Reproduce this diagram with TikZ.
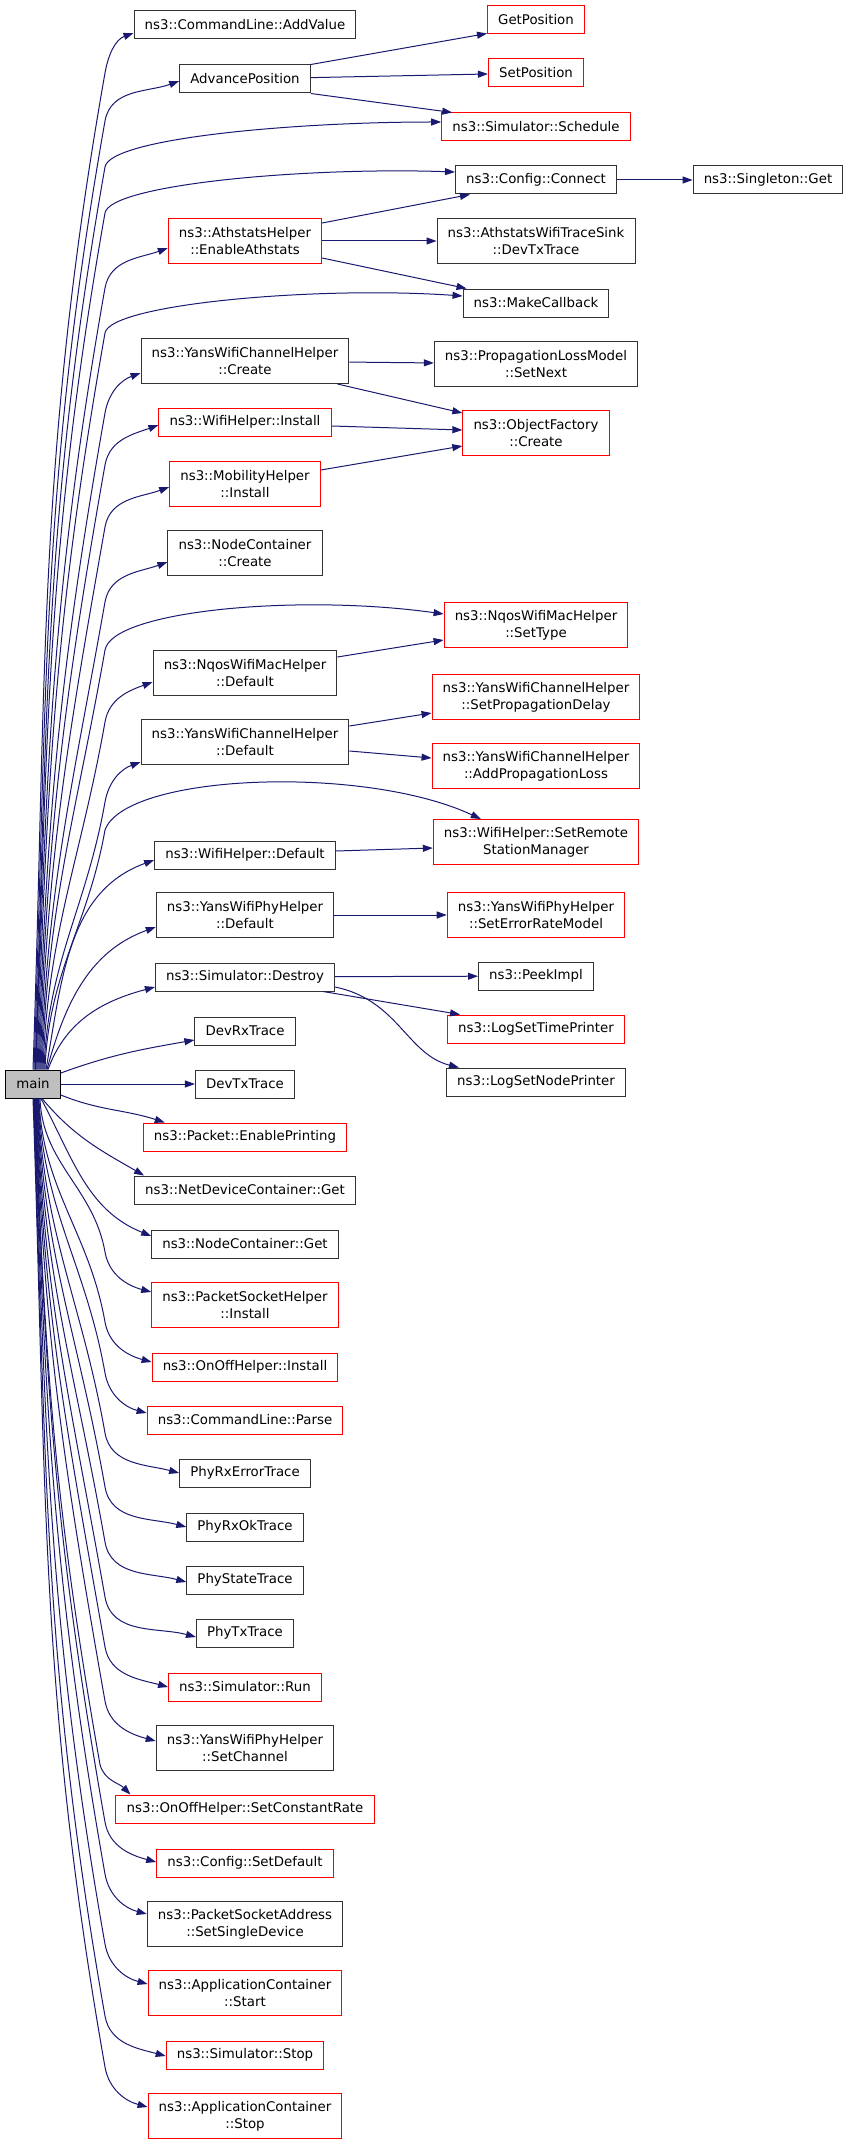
\documentclass[tikz,border=0pt]{standalone}
\usepackage{fontspec}
\setmainfont{DejaVu Sans}
\usetikzlibrary{arrows.meta,calc}
\definecolor{callblue}{HTML}{191970}
\definecolor{rootgray}{HTML}{BFBFBF}

\begin{document}
\begin{tikzpicture}[x=0.75pt,y=-0.75pt,
  func/.style={draw=black!80,line width=0.75pt,font=\fontsize{10}{12.75}\selectfont,inner xsep=8pt,inner ysep=2pt,minimum height=21pt,align=center},
  trunc/.style={func,draw=red},
  two/.style={minimum height=33.75pt},
  call/.style={draw=callblue,line width=0.75pt,-{Triangle[length=7.5pt,width=5.25pt]}}]
\useasboundingbox (0,0) rectangle (851,2144);
\coordinate (bend) at (105,0);

\node[func,fill=rootgray,draw=black] (main) at (33,1084) {main};

\node[func] (addvalue) at (245,25) {ns3::CommandLine::AddValue};
\node[func] (advpos) at (245,79) {AdvancePosition};
\node[trunc,two] (enableath) at (245,241) {ns3::AthstatsHelper\\::EnableAthstats};
\node[func,two] (ywchcreate) at (245,361) {ns3::YansWifiChannelHelper\\::Create};
\node[trunc] (wifiinstall) at (245,422) {ns3::WifiHelper::Install};
\node[trunc,two] (mobinstall) at (245,484) {ns3::MobilityHelper\\::Install};
\node[func,two] (nccreate) at (245,553) {ns3::NodeContainer\\::Create};
\node[func,two] (nqosdefault) at (245,673) {ns3::NqosWifiMacHelper\\::Default};
\node[func,two] (ywchdefault) at (245,742) {ns3::YansWifiChannelHelper\\::Default};
\node[func] (wifidefault) at (245,855) {ns3::WifiHelper::Default};
\node[func,two] (ywphdefault) at (245,915) {ns3::YansWifiPhyHelper\\::Default};
\node[func] (simdestroy) at (245,977) {ns3::Simulator::Destroy};
\node[func] (devrx) at (245,1031) {DevRxTrace};
\node[func] (devtx) at (245,1084) {DevTxTrace};
\node[trunc] (enableprint) at (245,1137) {ns3::Packet::EnablePrinting};
\node[func] (ndcget) at (245,1190) {ns3::NetDeviceContainer::Get};
\node[func] (ncget) at (245,1244) {ns3::NodeContainer::Get};
\node[trunc,two] (psinstall) at (245,1305) {ns3::PacketSocketHelper\\::Install};
\node[trunc] (onoffinstall) at (245,1367) {ns3::OnOffHelper::Install};
\node[trunc] (parse) at (245,1420) {ns3::CommandLine::Parse};
\node[func] (phyrxerr) at (245,1473) {PhyRxErrorTrace};
\node[func] (phyrxok) at (245,1527) {PhyRxOkTrace};
\node[func] (phystate) at (245,1580) {PhyStateTrace};
\node[func] (phytx) at (245,1633) {PhyTxTrace};
\node[trunc] (simrun) at (245,1687) {ns3::Simulator::Run};
\node[func,two] (ywphsetch) at (245,1748) {ns3::YansWifiPhyHelper\\::SetChannel};
\node[trunc] (setconstrate) at (245,1809) {ns3::OnOffHelper::SetConstantRate};
\node[trunc] (setdefault) at (245,1863) {ns3::Config::SetDefault};
\node[func,two] (pssetdev) at (245,1924) {ns3::PacketSocketAddress\\::SetSingleDevice};
\node[trunc,two] (appstart) at (245,1993) {ns3::ApplicationContainer\\::Start};
\node[trunc] (simstop) at (245,2055) {ns3::Simulator::Stop};
\node[trunc,two] (appstop) at (245,2116) {ns3::ApplicationContainer\\::Stop};

\node[trunc] (getpos) at (536,20) {GetPosition};
\node[trunc] (setpos) at (536,73) {SetPosition};
\node[trunc] (schedule) at (536,127) {ns3::Simulator::Schedule};
\node[func] (cfgconnect) at (536,180) {ns3::Config::Connect};
\node[func,two] (athdevtx) at (536,241) {ns3::AthstatsWifiTraceSink\\::DevTxTrace};
\node[func] (makecb) at (536,303) {ns3::MakeCallback};
\node[func,two] (setnext) at (536,364) {ns3::PropagationLossModel\\::SetNext};
\node[trunc,two] (objfactory) at (536,433) {ns3::ObjectFactory\\::Create};
\node[trunc,two] (settype) at (536,625) {ns3::NqosWifiMacHelper\\::SetType};
\node[trunc,two] (setpropdelay) at (536,697) {ns3::YansWifiChannelHelper\\::SetPropagationDelay};
\node[trunc,two] (addproploss) at (536,766) {ns3::YansWifiChannelHelper\\::AddPropagationLoss};
\node[trunc,two] (srsm) at (536,842) {ns3::WifiHelper::SetRemote\\StationManager};
\node[trunc,two] (seterrrate) at (536,915) {ns3::YansWifiPhyHelper\\::SetErrorRateModel};
\node[func] (peekimpl) at (536,976) {ns3::PeekImpl};
\node[trunc] (logtime) at (536,1029) {ns3::LogSetTimePrinter};
\node[func] (lognode) at (536,1082) {ns3::LogSetNodePrinter};
\node[func] (singleton) at (768,180) {ns3::Singleton::Get};

\foreach \n/\dy/\sx in {addvalue/8/0, advpos/2/1, enableath/7/3, ywchcreate/12/5, wifiinstall/3/6, mobinstall/3/7, nccreate/9/8, nqosdefault/9/10, ywchdefault/20/11}
  \draw[call] ($(main.north)+(\sx,0)$) to[out=88,in=-100] ($(\n.west -| bend)+(0,{\dy+40})$) to[out=80,in=200] ($(\n.west)+(0,\dy)$);

\draw[call] ($(main.north)+(13,0)$) to[out=80,in=200] ($(wifidefault.west)+(0,5)$);
\draw[call] ($(main.north)+(14,0)$) to[out=75,in=200] ($(ywphdefault.west)+(0,12)$);
\draw[call] ($(main.north)+(15,0)$) to[out=70,in=195] ($(simdestroy.west)+(0,10)$);
\draw[call] ($(main.east)+(0,-11)$) to[out=20,in=190] ($(devrx.west)+(0,9)$);
\draw[call] (main) -- (devtx);

\draw[call] ($(main.north)+(2,0)$) to[out=88,in=-100] ($(schedule.west -| bend)+(0,40)$) to[out=80,in=180,out distance=22pt,in distance=110pt] ($(schedule.west)+(0,-5)$);
\draw[call] ($(main.north)+(2.5,0)$) to[out=88,in=-100] ($(cfgconnect.west -| bend)+(0,33)$) to[out=80,in=178,out distance=22pt,in distance=110pt] ($(cfgconnect.west)+(0,-8)$);
\draw[call] ($(main.north)+(4,0)$) to[out=88,in=-100] ($(makecb.west -| bend)+(0,30)$) to[out=80,in=176,out distance=22pt,in distance=110pt] ($(makecb.west)+(0,-7)$);
\draw[call] ($(main.north)+(9,0)$) to[out=88,in=-100] ($(settype.west -| bend)+(0,25)$) to[out=80,in=172,out distance=30pt,in distance=110pt] ($(settype.west)+(0,-11)$);
\draw[call] ($(main.north)+(12,0)$) to[out=88,in=-100] ($(srsm.west -| bend)+(0,-12)$) to[out=70,in=155,out distance=45pt,in distance=97pt] ($(srsm.north west)+(48,0)$);

\draw[call] ($(main.east)+(0,11)$) to[out=-22,in=162] ($(enableprint.north west)+(22,0)$);
\draw[call] ($(main.south)+(9,0)$) to[out=-50,in=150] ($(ndcget.north west)+(10,0)$);
\draw[call] ($(main.south)+(8,0)$) to[out=-62,in=158] ($(ncget.west)+(0,-8)$);

\foreach \n/\dy/\sx in {psinstall/-13/7, onoffinstall/-5/6, parse/-7/5.5, phyrxerr/0/5, phyrxok/0/4.5, phystate/2/4, phytx/4/3.5, simrun/0/3, ywphsetch/-7/2.5, setdefault/-1/2, pssetdev/-10/1.5, appstart/-9/1, simstop/1/0.5, appstop/-9/0}
  \draw[call] ($(main.south)+(\sx,0)$) to[out=-88,in=100] ($(\n.west -| bend)+(0,{\dy-40})$) to[out=-80,in=165] ($(\n.west)+(0,\dy)$);
\draw[call] ($(main.south)+(2.2,0)$) to[out=-88,in=100] ($(setconstrate.north west -| bend)+(-5,-30)$) to[out=-75,in=135] ($(setconstrate.north west)+(15,0)$);

\draw[call] (advpos.north east) -- ($(getpos.south west)+(0,-1)$);
\draw[call] (advpos) -- (setpos);
\draw[call] (advpos.south east) -- ($(schedule.north west)+(11,0)$);
\draw[call] ($(enableath.north east)+(0,5)$) -- ($(cfgconnect.south west)+(15,0)$);
\draw[call] (enableath) -- (athdevtx);
\draw[call] ($(enableath.south east)+(0,-6)$) -- ($(makecb.north west)+(4,0)$);
\draw[call] (cfgconnect) -- (singleton);
\draw[call] (ywchcreate) -- (setnext);
\draw[call] ($(ywchcreate.south east)+(-12,0)$) -- ($(objfactory.north west)+(0,3)$);
\draw[call] ($(wifiinstall.east)+(0,4)$) -- ($(objfactory.west)+(0,-3)$);
\draw[call] ($(mobinstall.north east)+(0,9)$) -- ($(objfactory.west)+(0,13)$);
\draw[call] ($(nqosdefault.north east)+(0,7)$) -- ($(settype.west)+(0,15)$);
\draw[call] ($(ywchdefault.east)+(0,-16)$) -- ($(setpropdelay.west)+(0,16)$);
\draw[call] ($(ywchdefault.east)+(0,9)$) -- ($(addproploss.west)+(0,-8)$);
\draw[call] ($(wifidefault.east)+(0,-4)$) -- ($(srsm.west)+(0,6)$);
\draw[call] (ywphdefault) -- (seterrrate);
\draw[call] (simdestroy) -- (peekimpl);
\draw[call] ($(simdestroy.south east)+(-12,0)$) -- ($(logtime.north west)+(13,0)$);
\draw[call] ($(simdestroy.east)+(0,10)$) .. controls +(63,13) and +(-52,-13) .. ($(lognode.north west)+(13,0)$);
\end{tikzpicture}
\end{document}
